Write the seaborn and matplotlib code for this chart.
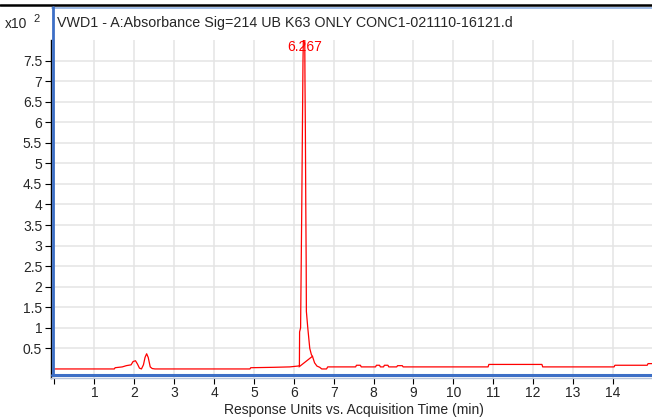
import pandas as pd
import seaborn as sns
import matplotlib.pyplot as plt
from matplotlib.lines import Line2D

#################### Data ####################

# retention time (min) and detector response (x10^2)
time_min = [0.00, 1.50, 1.52, 1.70, 1.80, 1.92, 1.97, 2.03, 2.08, 2.13, 2.18,
            2.23, 2.27, 2.31, 2.35, 2.40, 2.45, 2.52, 4.90, 4.92, 5.50, 5.90,
            6.10, 6.14, 6.145, 6.17, 6.20, 6.23, 6.267, 6.28, 6.29, 6.30, 6.31,
            6.315, 6.35, 6.40, 6.44, 6.47, 6.52, 6.58, 6.65, 6.70, 6.82, 6.85,
            7.55, 7.57, 7.67, 7.69, 8.05, 8.07, 8.15, 8.17, 8.25, 8.27, 8.36,
            8.38, 8.58, 8.60, 8.72, 8.74, 10.87, 10.89, 12.22, 12.24, 14.03,
            14.05, 14.86, 14.88, 14.98]
response = [0.00, 0.00, 0.03, 0.05, 0.08, 0.10, 0.18, 0.20, 0.12, 0.02, 0.00,
            0.10, 0.28, 0.37, 0.28, 0.05, 0.01, 0.00, 0.00, 0.03, 0.04, 0.05,
            0.07, 0.08, 0.90, 1.00, 4.00, 7.50, 9.50, 7.00, 5.80, 4.00, 2.60,
            1.40, 1.00, 0.50, 0.35, 0.30, 0.15, 0.07, 0.04, 0.00, 0.00, 0.05,
            0.05, 0.09, 0.09, 0.05, 0.05, 0.09, 0.09, 0.05, 0.05, 0.09, 0.09,
            0.05, 0.05, 0.08, 0.08, 0.05, 0.05, 0.11, 0.11, 0.05, 0.05,
            0.09, 0.09, 0.13, 0.13]

# integration baseline under the main peak
base_time = [6.13, 6.47]
base_resp = [0.05, 0.31]

peak_rt = 6.267
title = "VWD1 - A:Absorbance Sig=214 UB K63 ONLY CONC1-021110-16121.d"
xlabel = "Response Units vs. Acquisition Time (min)"
x_ticks = list(range(0, 15))
y_ticks = [0.5, 1, 1.5, 2, 2.5, 3, 3.5, 4, 4.5, 5, 5.5, 6, 6.5, 7, 7.5]

df = pd.DataFrame({"time": time_min, "resp": response})
df_base = pd.DataFrame({"time": base_time, "resp": base_resp})

#################### Plot ####################

sns.set_style("white")
plt.rcParams['font.family'] = ['Liberation Sans', 'DejaVu Sans']

fig = plt.figure(figsize=(6.52, 4.17), dpi=100)
ax = fig.add_axes([50.5 / 652, 39 / 417, 601.5 / 652, 338 / 417])

ax.grid(True, color='#e4e4e4', linewidth=1.1, zorder=0)
ax.set_axisbelow(True)

sns.lineplot(data=df, x="time", y="resp", sort=False, estimator=None,
             color='#ff0000', linewidth=0.9, ax=ax)
sns.lineplot(data=df_base, x="time", y="resp", sort=False, estimator=None,
             color='#ff0000', linewidth=0.9, ax=ax)

ax.set_xlim(-0.1, 14.98)
ax.set_ylim(-0.22, 8.0)
ax.set_xticks(x_ticks)
ax.set_xticklabels([""] + [str(t) for t in x_ticks[1:]])
ax.set_yticks(y_ticks)
ax.set_yticklabels([f"{v:g}" for v in y_ticks])
ax.tick_params(axis='both', direction='out', length=4, width=0.8,
               color='black', labelsize=10, pad=2, bottom=True, left=True)
ax.set_ylabel("")
ax.set_xlabel(xlabel, fontsize=10)
ax.xaxis.set_label_coords((354 - 50.5) / 601.5, -0.075)

for side in ['top', 'right']:
    ax.spines[side].set_visible(False)
ax.spines['left'].set_color('black')
ax.spines['left'].set_linewidth(1.0)
ax.spines['bottom'].set_color('#b8c4d8')
ax.spines['bottom'].set_linewidth(1.0)

ax.text(peak_rt, 7.82, "6.267", color='#ff0000', fontsize=10,
        ha='center', va='center')

#################### Frame decorations ####################

def hline(y_px, x0_px, x1_px, color, lw):
    fig.add_artist(Line2D([x0_px / 652, x1_px / 652],
                          [1 - y_px / 417, 1 - y_px / 417],
                          color=color, linewidth=lw, transform=fig.transFigure))

hline(5, 0, 652, 'black', 1.8)
hline(7.5, 52, 652, '#8fb0e3', 1.2)
hline(374.5, 52, 652, '#3d6fc6', 2.2)
fig.add_artist(Line2D([53 / 652, 53 / 652], [1 - 7 / 417, 1 - 375 / 417],
                      color='#3d6fc6', linewidth=2.0, transform=fig.transFigure))

fig.text(57 / 652, 1 - 23.5 / 417, title, fontsize=10.25, ha='left', va='center')
fig.text(5 / 652, 1 - 24 / 417, "x10", fontsize=10, ha='left', va='center')
fig.text(33 / 652, 1 - 19 / 417, "2", fontsize=8, ha='left', va='center')

plt.savefig('out.png', dpi=100)
